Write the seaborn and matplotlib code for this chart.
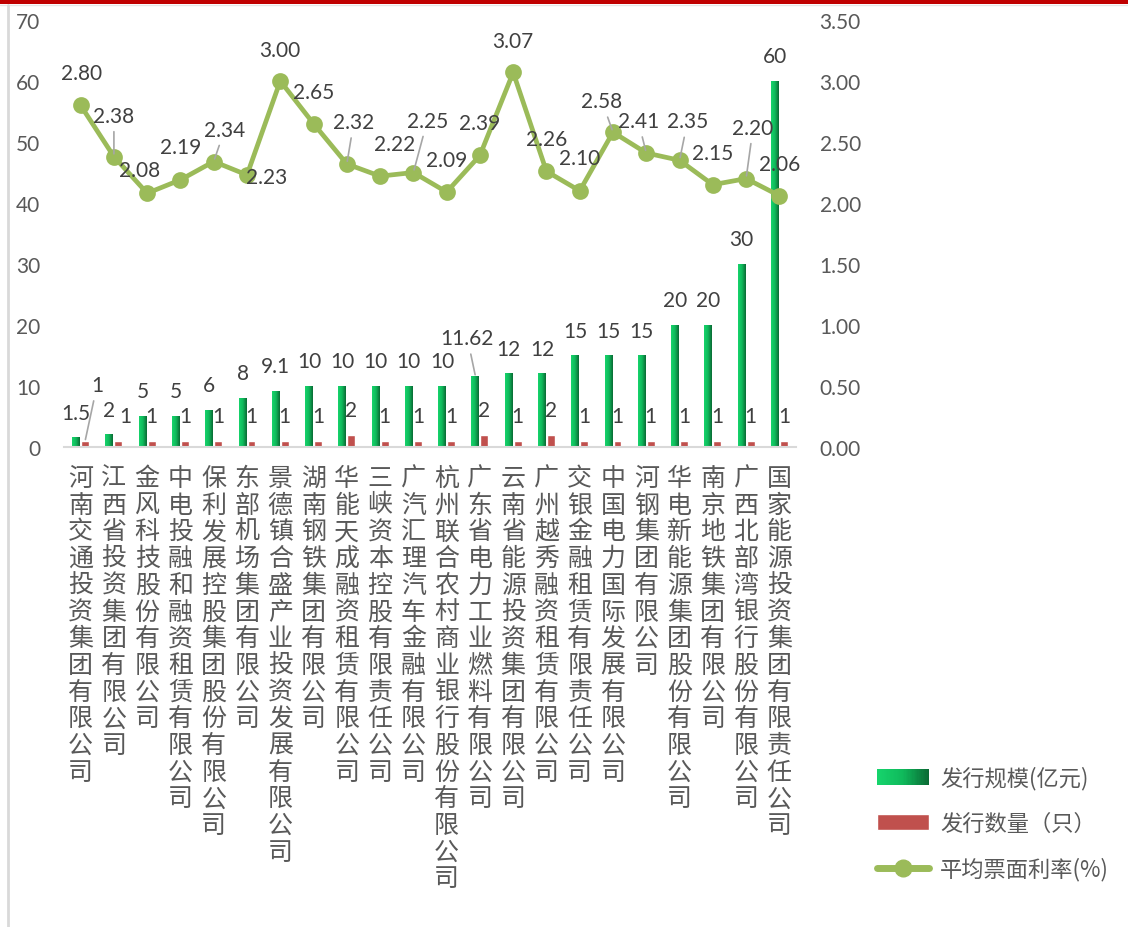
import numpy as np
import pandas as pd
import matplotlib
matplotlib.use("Agg")
import matplotlib.pyplot as plt
import seaborn as sns
from matplotlib.patches import Rectangle, Patch
from matplotlib.lines import Line2D
from matplotlib.colors import LinearSegmentedColormap
from matplotlib.legend_handler import HandlerBase

# ---- данные ----
companies = [
    "河南交通投资集团有限公司", "江西省投资集团有限公司", "金风科技股份有限公司",
    "中电投融和融资租赁有限公司", "保利发展控股集团股份有限公司", "东部机场集团有限公司",
    "景德镇合盛产业投资发展有限公司", "湖南钢铁集团有限公司", "华能天成融资租赁有限公司",
    "三峡资本控股有限责任公司", "广汽汇理汽车金融有限公司", "杭州联合农村商业银行股份有限公司",
    "广东省电力工业燃料有限公司", "云南省能源投资集团有限公司", "广州越秀融资租赁有限公司",
    "交银金融租赁有限责任公司", "中国电力国际发展有限公司", "河钢集团有限公司",
    "华电新能源集团股份有限公司", "南京地铁集团有限公司", "广西北部湾银行股份有限公司",
    "国家能源投资集团有限责任公司",
]
scale = [1.5, 2, 5, 5, 6, 8, 9.1, 10, 10, 10, 10, 10, 11.62, 12, 12, 15, 15, 15, 20, 20, 30, 60]
count = [1, 1, 1, 1, 1, 1, 1, 1, 2, 1, 1, 1, 2, 1, 2, 1, 1, 1, 1, 1, 1, 1]
rate = [2.80, 2.38, 2.08, 2.19, 2.34, 2.23, 3.00, 2.65, 2.32, 2.22, 2.25, 2.09,
        2.39, 3.07, 2.26, 2.10, 2.58, 2.41, 2.35, 2.15, 2.20, 2.06]

series_names = ["发行规模(亿元)", "发行数量（只）", "平均票面利率(%)"]

# смещения подписей (пиксели) и флаг выносной линии
rate_offsets = [(1, 32), (0, 41), (-8, 23), (0, 33), (11, 32), (20, -2), (0, 31), (0, 32),
                (7, 42), (15, 32), (14, 52), (0, 32), (0, 32), (0, 31), (0, 32), (0, 33),
                (-11, 31), (-8, 32), (8, 39), (0, 32), (7, 51), (0, 32)]
rate_leader = {1, 4, 8, 10, 16, 17, 18, 20}
scale_offsets = {12: (-8, 38)}
count_offsets = {0: (12, 56), 1: (7, 25)}

GREEN_LINE = "#9BBB59"
RED = "#C0504D"
LABEL = "#404040"
TICK = "#595959"
grad_cmap = LinearSegmentedColormap.from_list("g", ["#16D46C", "#0FB95B", "#0A6A34"])

sns.set_theme(style="white")
plt.rcParams["font.family"] = ["Lato", "Noto Sans CJK SC", "DejaVu Sans"]

W, H = 1128, 928
fig = plt.figure(figsize=(W / 100, H / 100), dpi=100)
ax = fig.add_axes([64 / W, 1 - 448 / H, (796 - 64) / W, (448 - 21) / H])

df = pd.DataFrame({
    "company": companies * 2,
    "series": [series_names[0]] * len(companies) + [series_names[1]] * len(companies),
    "value": scale + count,
})
sns.barplot(data=df, x="company", y="value", hue="series", order=companies,
            hue_order=series_names[:2], palette=["#0FB95B", RED],
            width=0.54, gap=0.12, saturation=1, legend=False, ax=ax, zorder=2)

# градиентная заливка зелёных столбцов
grad = np.linspace(0, 1, 64).reshape(1, -1)
for bar in ax.containers[0]:
    x0, w, h = bar.get_x(), bar.get_width(), bar.get_height()
    ax.imshow(grad, extent=[x0, x0 + w, 0, h], aspect="auto", cmap=grad_cmap,
              zorder=2.1, interpolation="bilinear")

for i, bar in enumerate(ax.containers[0]):
    dx, dy = scale_offsets.get(i, (0, 25))
    xy = (bar.get_x() + bar.get_width() / 2, bar.get_height())
    ap = dict(arrowstyle="-", color="#A6A6A6", lw=1.2, shrinkB=1) if i in scale_offsets else None
    ax.annotate(f"{scale[i]:g}", xy=xy, xytext=(dx, dy), textcoords="offset pixels",
                ha="center", va="center", fontsize=15, color=LABEL, arrowprops=ap, zorder=5)
for i, bar in enumerate(ax.containers[1]):
    dx, dy = count_offsets.get(i, (0, 25))
    xy = (bar.get_x() + bar.get_width() / 2, bar.get_height())
    ap = dict(arrowstyle="-", color="#A6A6A6", lw=1.2, shrinkB=1) if i == 0 else None
    ax.annotate(f"{count[i]}", xy=xy, xytext=(dx, dy), textcoords="offset pixels",
                ha="center", va="center", fontsize=15, color=LABEL, arrowprops=ap, zorder=5)

ax.set_xlim(-0.5, len(companies) - 0.5)
ax.set_ylim(0, 70)
ax.set_yticks(range(0, 71, 10))
ax.set_xlabel("")
ax.set_ylabel("")

# вторая ось: ставка
ax2 = ax.twinx()
sns.pointplot(x=companies, y=rate, ax=ax2, color=GREEN_LINE, markers="o",
              markersize=9.5, linewidth=3.4, errorbar=None)
for i, r in enumerate(rate):
    dx, dy = rate_offsets[i]
    ap = dict(arrowstyle="-", color="#A6A6A6", lw=1.2, shrinkB=2) if i in rate_leader else None
    ax2.annotate(f"{r:.2f}", xy=(i, r), xytext=(dx, dy), textcoords="offset pixels",
                 ha="center", va="center", fontsize=15, color=LABEL, arrowprops=ap, zorder=5)
ax2.set_ylim(0, 3.5)
ax2.set_yticks(np.arange(0, 3.51, 0.5))
ax2.set_yticklabels([f"{v:.2f}" for v in np.arange(0, 3.51, 0.5)])
ax2.set_ylabel("")
ax.set_xlim(-0.5, len(companies) - 0.5)

# подписи категорий: вертикально, по одному иероглифу
ax.set_xticks(range(len(companies)))
ax.set_xticklabels([])
for i, name in enumerate(companies):
    for j, ch in enumerate(name):
        ax.annotate(ch, xy=(i, 0), xycoords=("data", "axes fraction"),
                    xytext=(0, -31 - 26.7 * j), textcoords="offset pixels",
                    ha="center", va="center", fontsize=18, color=TICK,
                    family=["Noto Sans CJK SC"], annotation_clip=False)
ax.tick_params(axis="x", length=0)
ax.tick_params(axis="y", length=0, pad=17, labelsize=15, labelcolor=TICK)
ax2.tick_params(axis="y", length=0, pad=17, labelsize=15, labelcolor=TICK)

for a in (ax, ax2):
    for s in a.spines.values():
        s.set_visible(False)
ax.spines["bottom"].set_visible(True)
ax.spines["bottom"].set_color("#D9D9D9")
ax.spines["bottom"].set_linewidth(1.5)
ax.grid(False)
ax2.grid(False)

# легенда
class GradientHandler(HandlerBase):
    def create_artists(self, legend, orig_handle, xdescent, ydescent, width, height, fontsize, trans):
        n = 40
        return [Rectangle((-xdescent + width * k / n, -ydescent), width / n * 1.1, height,
                          facecolor=grad_cmap(k / (n - 1)), edgecolor="none", transform=trans)
                for k in range(n)]

grad_handle = Patch(facecolor="#0FB95B")
handles = [grad_handle, Patch(facecolor=RED),
           Line2D([], [], color=GREEN_LINE, lw=5, marker="o", markersize=12)]
leg = fig.legend(handles, series_names, loc="upper left",
                 bbox_to_anchor=(877 / W, 1 - 767 / H), frameon=False,
                 prop={"family": ["Noto Sans CJK SC"], "size": 16},
                 handlelength=2.35, handleheight=0.68, handletextpad=0.5,
                 labelspacing=1.0, borderpad=0, borderaxespad=0,
                 handler_map={grad_handle: GradientHandler()})
for t in leg.get_texts():
    t.set_color(TICK)

# рамка: красная полоса сверху и серая линия слева
fig.patches.append(Rectangle((0, 1 - 5 / H), 1, 5 / H, transform=fig.transFigure,
                             facecolor="#C00000", edgecolor="none"))
fig.add_artist(Line2D([0, 1], [1 - 6 / H] * 2, color="#E6E6E6", lw=1))
fig.add_artist(Line2D([8 / W] * 2, [0, 1 - 6 / H], color="#D9D9D9", lw=2))

fig.savefig("out.png", dpi=100)
